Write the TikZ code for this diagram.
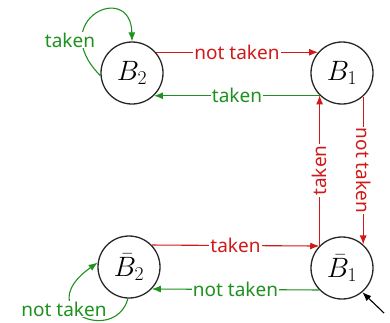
\RequirePackage{fix-cm}
\documentclass[tikz,border=0pt]{standalone}
\usepackage{fontspec}
\setmainfont{Noto Sans}
\usetikzlibrary{arrows.meta}
\definecolor{cred}{RGB}{210,25,25}
\definecolor{cgreen}{RGB}{30,145,30}
\begin{document}
\begin{tikzpicture}[x=1pt,y=-1pt,
  state/.style={circle,draw=black!85,line width=1.3pt,minimum size=62pt,inner sep=0pt,font=\fontsize{28}{30}\selectfont},
  lbl/.style={fill=white,inner sep=1pt,font=\fontsize{19}{21}\selectfont},
  edge/.style={line width=1.1pt,-{Latex[length=9pt,width=7pt]}},
  rd/.style={edge,draw=cred,text=cred},
  gr/.style={edge,draw=cgreen,text=cgreen}]
\useasboundingbox (0,0) rectangle (390,322);
\node[state] (B2) at (132,73) {$B_2$};
\node[state] (B1) at (342,73) {$B_1$};
\node[state] (nB2) at (129,267) {$\bar B_2$};
\node[state] (nB1) at (342,268) {$\bar B_1$};
\coordinate (init) at (384,313);
% top horizontal
\draw[rd] (B2.41) -- node[lbl,midway] {not taken} (B1.139);
\draw[gr] (B1.-134) -- node[lbl,midway] {taken} (B2.-46);
% verticals
\draw[rd] (nB1.135) -- node[lbl,midway,rotate=90] {taken} (B1.225);
\draw[rd] (B1.-48) -- node[lbl,midway,rotate=-90] {not taken} (nB1.48);
% bottom horizontal
\draw[rd] (nB2.44) -- node[lbl,midway] {taken} (nB1.136);
\draw[gr] (nB1.224) -- node[lbl,midway] {not taken} (nB2.-44);
% self loops
\draw[gr] (B2.185) .. controls (45,20) and (131,-20) .. (B2.90);
\node[lbl,text=cgreen] (lt) at (70,40) {taken};
\draw[gr] (nB2.-92) .. controls (115,345) and (30,310) .. (nB2.172);
\node[lbl,text=cgreen] (lnt) at (64,309) {not taken};
% initial
\draw[line width=1.1pt,-{Latex[length=9pt,width=7pt]}] (init) -- (nB1.-50);
\end{tikzpicture}
\end{document}
